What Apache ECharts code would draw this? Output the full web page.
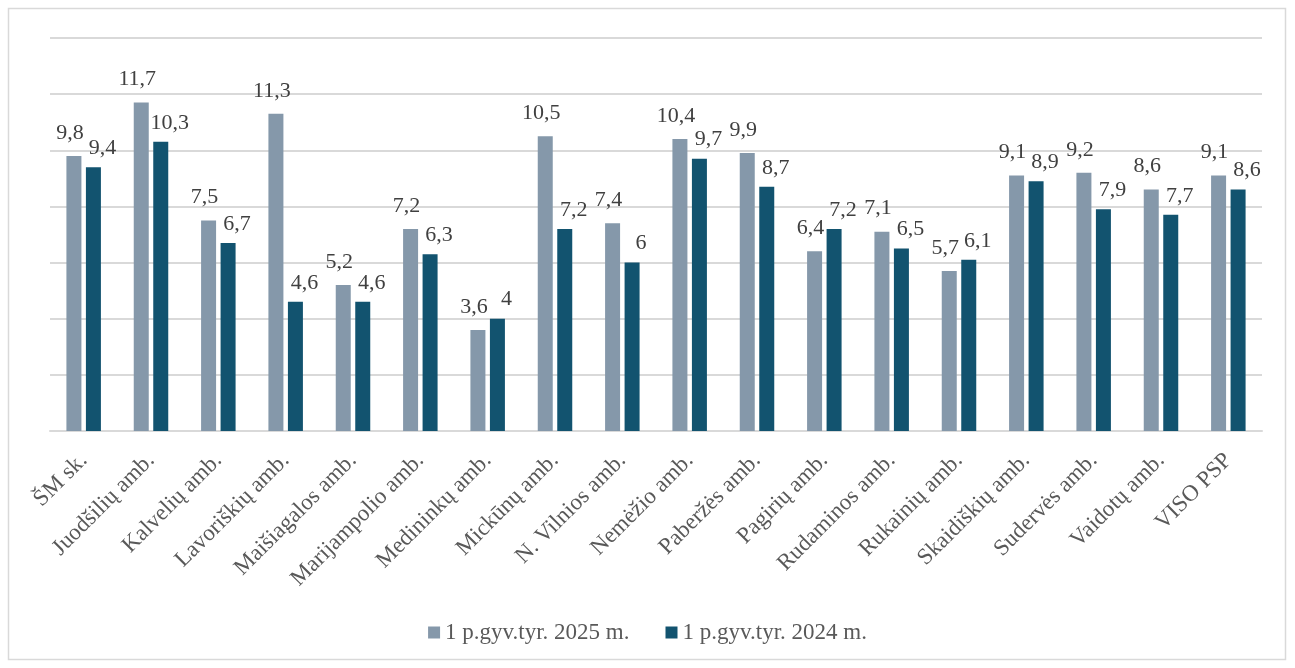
<!DOCTYPE html>
<html>
<head>
<meta charset="utf-8">
<script src="https://cdn.jsdelivr.net/npm/echarts@6/dist/echarts.min.js"></script>
<style>
  html, body { margin: 0; padding: 0; background: #fff; }
  #barChart { width: 1295px; height: 668px; }
</style>
</head>
<body>
<div id="barChart"></div>
<script>
// kategorijos ir reikšmės
const categories = [
  "ŠM sk.", "Juodšilių amb.", "Kalvelių amb.", "Lavoriškių amb.", "Maišiagalos amb.",
  "Marijampolio amb.", "Medininkų amb.", "Mickūnų amb.", "N. Vilnios amb.", "Nemėžio amb.",
  "Paberžės amb.", "Pagirių amb.", "Rudaminos amb.", "Rukainių amb.", "Skaidiškių amb.",
  "Sudervės amb.", "Vaidotų amb.", "VISO PSP"
];
const values2025 = [9.8, 11.7, 7.5, 11.3, 5.2, 7.2, 3.6, 10.5, 7.4, 10.4, 9.9, 6.4, 7.1, 5.7, 9.1, 9.2, 8.6, 9.1];
const values2024 = [9.4, 10.3, 6.7, 4.6, 4.6, 6.3, 4, 7.2, 6, 9.7, 8.7, 7.2, 6.5, 6.1, 8.9, 7.9, 7.7, 8.6];
const seriesNames = ["1 p.gyv.tyr. 2025 m.", "1 p.gyv.tyr. 2024 m."];

const font = "'Liberation Serif', 'Times New Roman', serif";
const myChart = echarts.init(document.getElementById("barChart"));

// skaičius su kableliu
function comma(p) {
  return String(p.value).replace(".", ",");
}

const option = {
  animation: false,
  textStyle: { fontFamily: font },
  graphic: [
    {
      type: "rect",
      shape: { x: 8.5, y: 8.5, width: 1277, height: 651 },
      style: { fill: "none", stroke: "#d9d9d9", lineWidth: 1.5 }
    }
  ],
  grid: { left: 50, right: 33, top: 38, bottom: 237 },
  legend: {
    bottom: 19,
    left: "center",
    itemWidth: 12,
    itemHeight: 12,
    itemGap: 36,
    icon: "rect",
    textStyle: { fontFamily: font, fontSize: 23, color: "#595959" },
    data: seriesNames
  },
  xAxis: {
    type: "category",
    data: categories,
    axisLine: { lineStyle: { color: "#d9d9d9", width: 2 } },
    axisTick: { show: false },
    axisLabel: {
      interval: 0,
      rotate: 45,
      margin: 26,
      fontFamily: font,
      fontSize: 23,
      color: "#595959"
    }
  },
  yAxis: {
    type: "value",
    min: 0,
    max: 14,
    interval: 2,
    axisLabel: { show: false },
    axisLine: { show: false },
    axisTick: { show: false },
    splitLine: { lineStyle: { color: "#d9d9d9", width: 2 } }
  },
  series: [
    {
      name: seriesNames[0],
      type: "bar",
      data: values2025,
      barWidth: 15,
      barGap: "30%",
      itemStyle: { color: "#8598aa" },
      label: {
        show: true,
        position: "top",
        distance: 12,
        offset: [-4, 0],
        formatter: comma,
        fontFamily: font,
        fontSize: 22,
        color: "#404040"
      }
    },
    {
      name: seriesNames[1],
      type: "bar",
      data: values2024,
      barWidth: 15,
      itemStyle: { color: "#12536f" },
      label: {
        show: true,
        position: "top",
        distance: 8,
        offset: [9, 0],
        formatter: comma,
        fontFamily: font,
        fontSize: 22,
        color: "#404040"
      }
    }
  ]
};

myChart.clear();
myChart.setOption(option);
</script>
</body>
</html>
